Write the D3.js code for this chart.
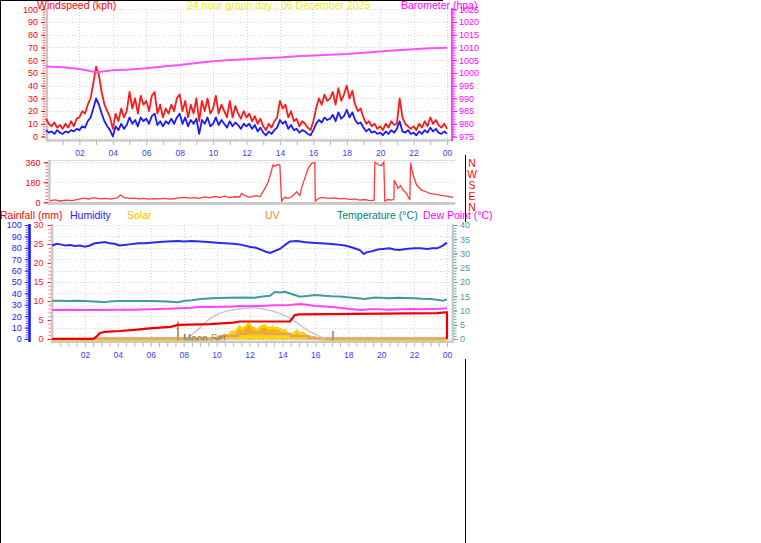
<!DOCTYPE html>
<html><head><meta charset="utf-8">
<script src="https://cdn.jsdelivr.net/npm/d3@7/dist/d3.min.js"></script>
<style>
html,body{margin:0;padding:0;background:#fff;}
svg{display:block;font-family:"Liberation Sans",Arial,sans-serif;}
</style></head><body>
<svg id="c" width="761" height="543"></svg>
<script>
// ---------------- DATA ----------------
const titleText = "24 hour graph day : 06 December 2025";
const hourTicks = [2,4,6,8,10,12,14,16,18,20,22,24];
const hourLabels = ["02","04","06","08","10","12","14","16","18","20","22","00"];
const windTickValues = [0,10,20,30,40,50,60,70,80,90,100];
const baroTickValues = [975,980,985,990,995,1000,1005,1010,1015,1020,1025];
const dirTickValues = [0,180,360];
const compassLabels = ["N","W","S","E","N"];
const humTickValues = [0,10,20,30,40,50,60,70,80,90,100];
const rainTickValues = [0,5,10,15,20,25,30];
const tempTickValues = [0,5,10,15,20,25,30,35,40];

// wind, one value every 10 minutes (00:00 .. 24:00)
const windGust = [
 14,10,8,11,7,9,   6,10,7,12,8,14,   15,20,18,25,30,42,  55,48,35,25,20,15,
 6,18,12,22,15,20, 35,22,30,18,32,25, 28,20,32,35,18,25,  15,22,18,25,20,30,
 33,20,28,15,25,18, 30,12,28,20,30,18, 22,32,18,25,20,15, 28,15,24,18,14,20,
 15,18,12,16,10,14, 8,5,10,7,12,15,   28,22,25,15,20,12,  14,8,12,10,7,5,
 12,22,30,25,33,28, 30,35,25,38,28,33, 40,30,36,25,20,22, 15,10,12,8,10,6,
 8,5,10,7,12,9,    10,30,15,10,8,6,   8,5,10,7,12,8,     15,10,13,9,7,10, 6];
const windAvg = [
 5,3,4,2,5,3,      2,4,3,5,4,6,       5,8,7,12,15,22,     30,25,18,12,8,5,
 0,8,5,10,6,9,     15,10,13,8,15,12,  14,10,16,18,9,12,   8,12,10,14,10,15,
 18,10,15,8,13,10, 14,2,13,10,15,8,   10,15,9,13,10,7,    12,8,11,9,6,10,
 8,10,6,9,4,7,     3,1,4,2,5,7,       13,10,12,6,9,5,     6,3,5,4,2,1,
 5,10,13,11,15,13, 14,17,12,19,14,16, 21,15,19,13,10,11,  7,4,6,3,4,2,
 3,1,4,2,5,3,      6,12,4,3,5,2,      3,1,4,2,5,3,        7,4,6,3,2,4, 2];

const baroHours  = [0,1,2,3,4,5,6,7,8,9,10,11,12,13,14,15,16,17,18,19,20,21,22,23,24];
const baroValues = [1002.5,1002.2,1001.5,1000.3,1001.0,1001.3,1001.8,1002.5,1003.1,1003.9,1004.6,1005.1,
                    1005.4,1005.8,1006.1,1006.5,1006.8,1007.1,1007.4,1007.9,1008.4,1008.9,1009.3,1009.7,1009.9];

const dirHours = [0.0,0.3,0.6,1.0,1.3,1.6,2.0,2.3,2.6,3.0,3.3,3.6,4.0,4.2,4.4,4.7,5.0,5.3,5.6,5.9,
  6.2,6.5,6.8,7.1,7.4,7.7,8.0,8.3,8.6,8.9,9.2,9.5,9.8,10.1,10.4,10.7,11.0,11.3,11.4,11.6,
  11.9,12.1,12.3,12.5,12.8,13.0,13.2,13.27,13.4,13.55,13.69,13.79,13.87,14.0,14.17,14.4,14.7,14.88,14.98,15.18,
  15.38,15.58,15.77,15.8,15.95,16.2,16.55,16.96,17.26,17.56,17.86,18.15,18.45,18.75,19.05,19.3,19.35,19.54,19.74,19.88,
  19.94,20.1,20.36,20.48,20.5,20.64,20.73,20.87,21.03,21.23,21.43,21.47,21.63,21.83,22.12,22.4,22.62,23.0,23.2,23.4,
  23.6,23.8,24.0];
const dirValues = [15,22,12,20,15,25,38,30,42,30,35,28,40,65,45,35,38,30,35,28,
  33,30,35,28,32,40,45,38,42,35,48,40,52,45,55,42,50,48,80,60,
  45,55,60,50,125,185,290,335,325,340,335,5,30,45,35,50,95,60,128,220,
  305,350,358,10,30,45,35,40,30,35,25,30,20,25,15,20,360,340,330,360,
  10,25,20,30,200,155,125,150,110,80,20,355,245,155,110,95,80,72,65,60,
  55,50,45];

const humHours = [0,0.3,0.5,0.8,1.1,1.4,1.7,2.0,2.3,2.6,2.9,3.2,3.5,3.8,4.1,4.4,4.7,5.0,5.3,5.65,
  6.0,6.5,7.0,7.65,8.0,8.5,9.0,9.5,10.0,10.5,11.0,11.4,12.0,12.4,12.76,13.0,13.25,13.5,13.85,14.2,
  14.46,14.9,15.3,15.8,16.3,16.8,17.3,17.8,18.2,18.5,18.7,18.95,19.1,19.44,19.8,20.1,20.5,20.8,21.1,21.5,
  22.0,22.4,22.8,23.1,23.4,23.7,24.0];
const humValues = [82,83.5,83,82,82.5,81.5,82,81,82,84,84.5,85,84,83.5,82,82.5,83,83.5,84,84,
  84.5,85,85.5,86,85.5,86,85.5,85,84.5,84,83.5,83,81,80,78,76.5,75.5,77,79,83,
  85.5,86,85,84.5,84,83.5,83,82,80.5,79,78,74.5,76,77,78.5,79,79.5,78.5,78,79,
  79.5,79.5,79,79.5,79.5,81.5,84.5];

const tempHours = [0,0.5,1.0,1.5,2.0,2.5,2.9,3.2,3.5,4.0,5.0,6.0,7.0,7.65,8.1,8.5,9.0,9.5,10.0,10.8,
  11.5,12.3,12.8,13.25,13.55,13.85,14.15,14.6,15.07,15.5,15.98,16.5,17.0,17.5,18.1,18.6,19.0,19.3,19.6,20.0,
  20.5,21.0,21.5,22.05,22.5,23.0,23.4,23.75,24.0];
const tempValues = [13.4,13.4,13.3,13.4,13.3,13.2,13.1,12.9,13.2,13.3,13.3,13.3,13.2,12.9,13.4,13.6,14.0,14.2,14.4,14.5,
  14.6,14.5,14.9,15.2,16.6,16.3,16.6,15.7,14.8,15.1,15.4,15.2,15.0,14.9,14.6,14.3,14.0,14.3,14.6,14.5,
  14.3,14.5,14.4,14.3,14.1,14.0,13.8,13.4,14.0];

const dewHours = [0,1,2,2.9,4,5,5.95,7,7.8,8.5,9.0,9.5,10.2,10.8,11.4,12.0,12.6,13.5,14.4,15.07,
  15.5,15.98,16.6,17.2,17.7,18.1,18.8,19.3,19.9,20.5,21.2,21.8,22.4,23.0,23.6,24];
const dewValues = [10.2,10.3,10.2,10.2,10.3,10.3,10.4,10.6,10.8,11.0,11.3,11.2,11.3,11.3,11.6,11.5,11.6,11.8,11.9,12.3,
  12.0,11.6,11.4,11.1,10.8,10.5,10.2,10.4,10.4,10.3,10.4,10.5,10.4,10.5,10.6,10.8];

const rainHours  = [0,2.5,2.6,2.75,2.9,3.2,4.1,5.0,5.95,7.2,7.65,9.6,11.0,11.4,14.46,14.75,15.0,23.4,23.9,24.0,24.0];
const rainValues = [0,0,0.3,0.8,1.5,1.9,2.1,2.4,2.8,3.2,3.7,3.9,4.3,4.6,4.6,6.3,6.5,6.8,7.0,7.0,0];

const solarHours  = [0,9.6,10.0,10.3,10.5,10.7,10.9,11.1,11.4,11.55,11.7,11.85,12.0,12.15,12.3,12.5,12.6,12.75,12.95,13.1,
  13.25,13.4,13.55,13.7,13.85,14.0,14.15,14.3,14.46,14.6,14.7,14.9,15.07,15.2,15.4,15.55,15.67,15.85,16.0,16.15,
  16.3,16.6,24];
const solarValues = [0,0,25,45,60,50,100,90,170,130,150,185,195,150,140,110,150,165,175,150,
  140,160,135,145,130,110,120,90,50,65,80,110,70,85,65,40,35,30,28,15,
  10,0,0];
const maxSolarHours  = [8.2,8.6,9.0,9.6,10.2,10.8,11.4,12.0,12.6,13.0,13.55,14.0,14.46,14.8,15.07,15.4,15.67,16.0,16.3,16.6];
const maxSolarValues = [0,70,140,260,320,350,375,385,378,360,336,300,262,210,172,125,90,55,28,0];

const uvHours  = [0,10.2,11.3,11.8,13.0,14.5,15.6,24];
const uvValues = [0,0.4,0.8,1,0.8,0.4,0,0];

const moonEvents = [{h:7.65, label:"Moon Set"}, {h:17.07, label:""}];

const legendItems = [
  {t:"Rainfall (mm)", c:"#ff0000", x:0},
  {t:"Humidity", c:"#2020ff", x:70},
  {t:"Solar", c:"#f0c000", x:127},
  {t:"UV", c:"#ff8040", x:265},
  {t:"Temperature (\u00B0C)", c:"#008080", x:337},
  {t:"Dew Point (\u00B0C)", c:"#ff00ff", x:423}
];

// ---------------- DRAW ----------------
const svg = d3.select("#c");
const FONT = "Liberation Sans, Arial, sans-serif";
const GRID = "#d4d4d4", BAR = "#c8c8c8", XLAB = "#3a3aff";

function text(x,y,s,col,size,anchor){
  return svg.append("text").attr("x",x).attr("y",y).text(s)
    .attr("fill",col).attr("font-size",size).attr("font-family",FONT)
    .attr("text-anchor",anchor||"start");
}
function styleAxis(g,col,size){
  g.select(".domain").remove();
  g.attr("font-family",FONT);
  g.selectAll(".tick line").attr("stroke",col);
  g.selectAll(".tick text").attr("fill",col).attr("font-size",size);
}
function addAxis(gen,tx,ty,col,size){
  const g = svg.append("g").attr("transform",`translate(${tx},${ty})`).call(gen);
  styleAxis(g,col,size);
  return g;
}
function hline(x1,x2,y,col,w,dash){
  const l = svg.append("line").attr("x1",x1).attr("x2",x2).attr("y1",y).attr("y2",y)
    .attr("stroke",col).attr("stroke-width",w||1);
  if(dash) l.attr("stroke-dasharray",dash);
  return l;
}
function vline(x,y1,y2,col,w,dash){
  const l = svg.append("line").attr("x1",x).attr("x2",x).attr("y1",y1).attr("y2",y2)
    .attr("stroke",col).attr("stroke-width",w||1);
  if(dash) l.attr("stroke-dasharray",dash);
  return l;
}
const fmtInt = d3.format("d");

// outer black frame
vline(0.5,0,543,"#000",1);
hline(0,443,0.5,"#000",1);
vline(465.5,155,222,"#000",1);
vline(465.5,359,543,"#000",1);

// ===== Panel 1 : wind + barometer =====
const x1 = d3.scaleLinear().domain([0,24]).range([46,447]);
const yW = d3.scaleLinear().domain([0,100]).range([136.5,9.3]);
const yB = d3.scaleLinear().domain([975,1025]).range([136.5,9.3]);

windTickValues.forEach(v=>hline(48,451,Math.round(yW(v))+0.5,GRID,1,"1,2"));
hourTicks.forEach(h=>vline(Math.round(x1(h))+0.5,9,139,GRID,1,"1,2"));

svg.append("rect").attr("x",45.5).attr("y",8).attr("width",2.6).attr("height",133).attr("fill",BAR);
svg.append("rect").attr("x",46).attr("y",139.2).attr("width",406).attr("height",2.4).attr("fill",BAR);
svg.append("rect").attr("x",451).attr("y",8).attr("width",2.2).attr("height",133).attr("fill","#ff40ff");

addAxis(d3.axisLeft(yW).tickValues(d3.range(0,101,2)).tickSize(2.5).tickFormat(""),45,0,"#ff6060",9);
addAxis(d3.axisLeft(yW).tickValues(windTickValues).tickSize(4).tickPadding(3).tickFormat(fmtInt),45,0,"#ff0000",9);
addAxis(d3.axisRight(yB).tickValues(d3.range(975,1026,1)).tickSize(2.5).tickFormat(""),453,0,"#ff40ff",9);
addAxis(d3.axisRight(yB).tickValues(baroTickValues).tickSize(4).tickPadding(2).tickFormat(fmtInt),453,0,"#ff00ff",9);
addAxis(d3.axisBottom(x1).tickValues(d3.range(1,25,1)).tickSize(4).tickFormat(""),0,141,"#b8b8b8",8);
addAxis(d3.axisBottom(x1).tickValues(hourTicks).tickSize(0).tickPadding(9)
  .tickFormat((d,i)=>hourLabels[i]),0,141,XLAB,8.5);

const windIdx = d3.range(windGust.length);
const lineGust = d3.line().x(i=>x1(i/6)).y(i=>yW(windGust[i]));
const lineAvg  = d3.line().x(i=>x1(i/6)).y(i=>yW(windAvg[i]));
svg.append("path").attr("d",lineGust(windIdx)).attr("fill","none").attr("stroke","#ff1a1a").attr("stroke-width",1.8).attr("stroke-linejoin","round");
svg.append("path").attr("d",lineAvg(windIdx)).attr("fill","none").attr("stroke","#1a1aff").attr("stroke-width",1.8).attr("stroke-linejoin","round");
const baroLine = d3.line().x(i=>x1(baroHours[i])).y(i=>yB(baroValues[i]));
svg.append("path").attr("d",baroLine(d3.range(baroHours.length))).attr("fill","none").attr("stroke","#ff50ff").attr("stroke-width",2);

text(37,8.5,"Windspeed (kph)","#ff0000",10.5);
text(187,8.5,titleText,"#f0f000",10.5);
text(401,8.5,"Barometer (hpa)","#ff00ff",10.5);

// ===== Panel 2 : wind direction =====
const x2 = d3.scaleLinear().domain([0,24]).range([50,453]);
const yD = d3.scaleLinear().domain([0,360]).range([202.3,162.3]);
hline(50,455,160.5,"#dcdcdc",1);
dirTickValues.filter(v=>v>0).forEach(v=>hline(51,454,Math.round(yD(v))+0.5,GRID,1,"1,2"));
svg.append("rect").attr("x",48.2).attr("y",160).attr("width",2.4).attr("height",45).attr("fill",BAR);
svg.append("rect").attr("x",48.2).attr("y",202).attr("width",407).attr("height",2.8).attr("fill",BAR);
addAxis(d3.axisLeft(yD).tickValues(d3.range(0,361,30)).tickSize(2.5).tickFormat(""),48,0,"#ff6060",9);
addAxis(d3.axisLeft(yD).tickValues(dirTickValues).tickSize(4.5).tickPadding(3).tickFormat(fmtInt),48,0,"#ff0000",9);
const dirLine = d3.line().x(i=>x2(dirHours[i])).y(i=>yD(dirValues[i]));
svg.append("path").attr("d",dirLine(d3.range(dirHours.length))).attr("fill","none").attr("stroke","#ff3a3a").attr("stroke-width",1.3);
// compass letters stacked vertically as one text
svg.append("text").attr("x",472).attr("y",158).text(compassLabels.join(""))
  .attr("fill","#ff0000").attr("font-size",10.3).attr("font-family",FONT)
  .attr("text-anchor","start")
  .style("writing-mode","vertical-rl").style("text-orientation","upright");

// ===== Panel 3 : rain / humidity / solar / temp =====
const x3 = d3.scaleLinear().domain([0,24]).range([52,447]);
const yH = d3.scaleLinear().domain([0,100]).range([339,225]);
const yR = d3.scaleLinear().domain([0,30]).range([339,225]);
const yT = d3.scaleLinear().domain([0,40]).range([339,225]);
const yS = d3.scaleLinear().domain([0,1400]).range([339,225]);
const yU = d3.scaleLinear().domain([0,20]).range([339,225]);

legendItems.forEach(d=>text(d.x,218.5,d.t,d.c,10.5));

humTickValues.forEach(v=>hline(53,452,Math.round(yH(v))+0.5,GRID,1,"1,2"));
hourTicks.forEach(h=>vline(Math.round(x3(h))+0.5,225,340,GRID,1,"1,2"));

// solar
const defs = svg.append("defs");
const grad = defs.append("linearGradient").attr("id","solg").attr("gradientUnits","userSpaceOnUse")
  .attr("x1",0).attr("x2",0).attr("y1",yS(200)).attr("y2",yS(0));
grad.append("stop").attr("offset","0").attr("stop-color","#f08c00");
grad.append("stop").attr("offset","0.55").attr("stop-color","#ffb000");
grad.append("stop").attr("offset","1").attr("stop-color","#ffe800");
const sIdx = d3.range(solarHours.length);
svg.append("path").attr("d",d3.area().x(i=>x3(solarHours[i])).y0(yS(0)).y1(i=>yS(solarValues[i]))(sIdx))
  .attr("fill","url(#solg)").attr("stroke","#f0a000").attr("stroke-width",0.8);
svg.append("path").attr("d",d3.line().x(i=>x3(solarHours[i])).y(i=>yS(solarValues[i]))(sIdx))
  .attr("fill","none").attr("stroke","#ffd800").attr("stroke-width",2).attr("transform","translate(0,1.2)");
// UV
svg.append("path").attr("d",d3.line().curve(d3.curveStepAfter).x(i=>x3(uvHours[i])).y(i=>yU(uvValues[i]))(d3.range(uvHours.length)))
  .attr("fill","none").attr("stroke","#dea070").attr("stroke-width",2.2).attr("transform","translate(0,-0.6)");
// theoretical max solar
svg.append("path").attr("d",d3.line().curve(d3.curveBasis).x(i=>x3(maxSolarHours[i])).y(i=>yS(maxSolarValues[i]))(d3.range(maxSolarHours.length)))
  .attr("fill","none").attr("stroke","#c8c8c8").attr("stroke-width",1.5);

// moon events
moonEvents.forEach((m,k)=>{
  vline(x3(m.h),k===0?321.5:331,341,"#b8946a",2);
  if(m.label) text(x3(m.h)+5,341.5,m.label,"#8c7a58",10);
});

// axes bars
svg.append("rect").attr("x",28.2).attr("y",224).attr("width",2.6).attr("height",118).attr("fill","#1a1aff");
svg.append("rect").attr("x",51).attr("y",224).attr("width",2.4).attr("height",119).attr("fill",BAR);
svg.append("rect").attr("x",51).attr("y",340.6).attr("width",403).attr("height",2.4).attr("fill",BAR);
svg.append("rect").attr("x",451.6).attr("y",224).attr("width",2.4).attr("height",119).attr("fill",BAR);

addAxis(d3.axisLeft(yH).tickValues(d3.range(0,101,2)).tickSize(2.5).tickFormat(""),28.2,0,"#5a5aff",9);
addAxis(d3.axisLeft(yH).tickValues(humTickValues).tickSize(3.5).tickPadding(3).tickFormat(fmtInt),28.2,0,"#1a1aff",9);
addAxis(d3.axisLeft(yR).tickValues(d3.range(0,31,1)).tickSize(2.5).tickFormat(""),51,0,"#ff7070",9);
addAxis(d3.axisLeft(yR).tickValues(rainTickValues).tickSize(3.5).tickPadding(4).tickFormat(fmtInt),51,0,"#ff2020",9);
addAxis(d3.axisRight(yT).tickValues(d3.range(0,41,1)).tickSize(2.5).tickFormat(""),454,0,"#60a8a8",9);
addAxis(d3.axisRight(yT).tickValues(tempTickValues).tickSize(3.5).tickPadding(2.5).tickFormat(fmtInt),454,0,"#4c9c9c",9);
addAxis(d3.axisBottom(x3).tickValues(d3.range(0.5,24.01,0.5)).tickSize(4).tickFormat(""),0,343,"#b8b8b8",8);
addAxis(d3.axisBottom(x3).tickValues(hourTicks).tickSize(0).tickPadding(8.5)
  .tickFormat((d,i)=>hourLabels[i]),0,343,XLAB,8.5);

// lines
const tLine = d3.line().x(i=>x3(tempHours[i])).y(i=>yT(tempValues[i]));
svg.append("path").attr("d",tLine(d3.range(tempHours.length))).attr("fill","none").attr("stroke","#3c9c98").attr("stroke-width",2);
const dLine = d3.line().x(i=>x3(dewHours[i])).y(i=>yT(dewValues[i]));
svg.append("path").attr("d",dLine(d3.range(dewHours.length))).attr("fill","none").attr("stroke","#ff44ff").attr("stroke-width",2);
const hLine = d3.line().x(i=>x3(humHours[i])).y(i=>yH(humValues[i]));
svg.append("path").attr("d",hLine(d3.range(humHours.length))).attr("fill","none").attr("stroke","#2a2aee").attr("stroke-width",2);
const rLine = d3.line().x(i=>x3(rainHours[i])).y(i=>yR(rainValues[i]));
svg.append("path").attr("d",rLine(d3.range(rainHours.length))).attr("fill","none").attr("stroke","#ee0000").attr("stroke-width",2.2);
</script>
</body></html>
